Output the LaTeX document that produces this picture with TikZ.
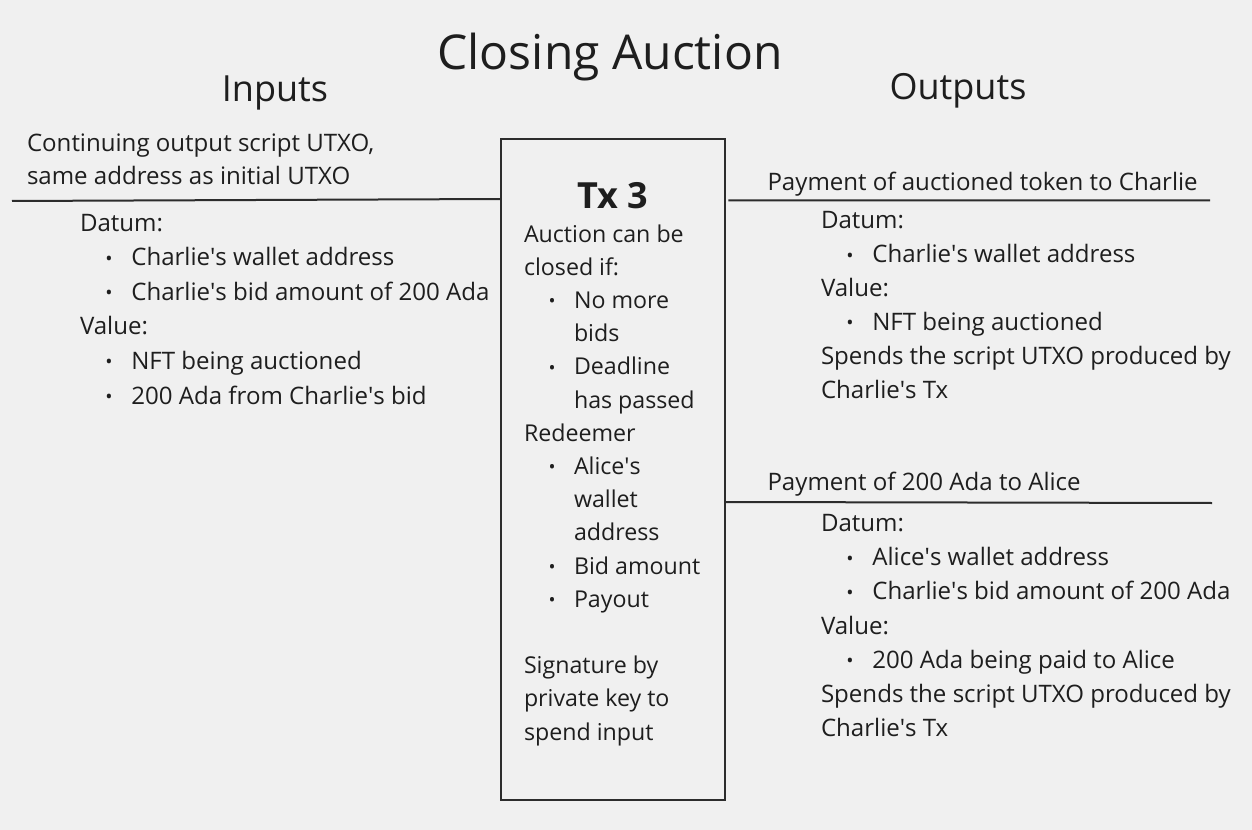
\documentclass[tikz,border=0pt]{standalone}
\usepackage{fontspec}
\setmainfont{Open Sans}
\definecolor{bg}{HTML}{F0F0F0}
\definecolor{ink}{HTML}{1E1E1E}
\definecolor{rulec}{HTML}{2C2C2C}
\newcommand{\bul}[1]{\hspace*{19pt}\makebox[19.5pt][l]{\raisebox{0.05ex}{\scalebox{0.8}{•}}}#1}
\newcommand{\cont}[1]{\hspace*{38.5pt}#1}
\newcommand{\cbul}[1]{\hspace*{18.5pt}\makebox[19pt][l]{\raisebox{0.05ex}{\scalebox{0.8}{•}}}#1}
\newcommand{\ccont}[1]{\hspace*{37.5pt}#1}
\newcommand{\q}{\textquotesingle}
\begin{document}
\begin{tikzpicture}[x=0.75pt,y=-0.75pt,
  every node/.style={inner sep=0pt, outer sep=0pt, text=ink},
  txtblock/.style={font={\fontsize{18.05pt}{#1}\selectfont}, align=left, anchor=base west},
  centerblock/.style={font={\fontsize{17.4pt}{#1}\selectfont}, align=left, anchor=base west},
  titletext/.style={font={\fontsize{36pt}{40pt}\selectfont}, anchor=base},
  headtext/.style={font={\fontsize{27pt}{30pt}\selectfont}, anchor=base},
  boxstyle/.style={draw=rulec, line width=1.5pt, rectangle, anchor=north west},
  linkline/.style={draw=rulec, line width=1.5pt}]
\fill[bg] (0,0) rectangle (1252,830);
\useasboundingbox (0,0) rectangle (1252,830);

\node[titletext] (title) at (610,70) {Closing Auction};
\node[headtext] (inputs) at (275,102) {Inputs};
\node[headtext] (outputs) at (958,100) {Outputs};

\node[boxstyle, minimum width=168pt, minimum height=495.75pt] (tx) at (501,139) {};

\coordinate (inL) at (12,201);
\coordinate (out1R) at (1210,200.5);
\coordinate (out2R) at (1212,503);
\draw[linkline] (inL) -- ([yshift=-45pt]tx.north west);
\draw[linkline] ([xshift=2.5pt,yshift=-46pt]tx.north east) -- (out1R);
\draw[linkline] ([yshift=-272.25pt]tx.north east) -- (out2R);

\node[txtblock=24.75pt] (inhead) at (27,184.5) {Continuing output script UTXO,\\same address as initial UTXO};
\node[txtblock=25.9pt] (inbody) at (80,404) {Datum:\\\bul{Charlie\q s wallet address}\\\bul{Charlie\q s bid amount of 200 Ada}\\Value:\\\bul{NFT being auctioned}\\\bul{200 Ada from Charlie\q s bid}};

\node[font={\fontsize{27pt}{30pt}\bfseries\selectfont}, anchor=base] (txtitle) at (613,209) {Tx 3};
\node[centerblock=24.9pt] (txbody) at (524,740) {Auction can be\\closed if:\\\cbul{No more}\\\ccont{bids}\\\cbul{Deadline}\\\ccont{has passed}\\Redeemer\\\cbul{Alice\q s}\\\ccont{wallet}\\\ccont{address}\\\cbul{Bid amount}\\\cbul{Payout}\\[24.9pt]Signature by\\private key to\\spend input};

\node[txtblock=25pt] (out1head) at (767.5,190.7) {Payment of auctioned token to Charlie};
\node[txtblock=25.4pt] (out1body) at (821,398.3) {Datum:\\\bul{Charlie\q s wallet address}\\Value:\\\bul{NFT being auctioned}\\Spends the script UTXO produced by\\Charlie\q s Tx};

\node[txtblock=25pt] (out2head) at (767.5,490.7) {Payment of 200 Ada to Alice};
\node[txtblock=25.65pt] (out2body) at (821,736.7) {Datum:\\\bul{Alice\q s wallet address}\\\bul{Charlie\q s bid amount of 200 Ada}\\Value:\\\bul{200 Ada being paid to Alice}\\Spends the script UTXO produced by\\Charlie\q s Tx};
\end{tikzpicture}
\end{document}
